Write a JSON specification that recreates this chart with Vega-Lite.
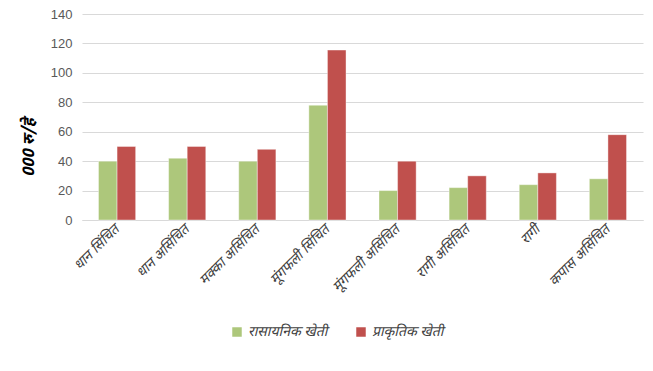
{
  "$schema": "https://vega.github.io/schema/vega-lite/v6.json",
  "width": 561,
  "height": 206,
  "autosize": "none",
  "padding": {"left": 82, "top": 14, "right": 10, "bottom": 151},
  "background": "white",
  "data": {"values": [
    {"crop": "धान सिंचित", "type": "रासायनिक खेती", "value": 40},
    {"crop": "धान सिंचित", "type": "प्राकृतिक खेती", "value": 50},
    {"crop": "धान असिंचित", "type": "रासायनिक खेती", "value": 42},
    {"crop": "धान असिंचित", "type": "प्राकृतिक खेती", "value": 50},
    {"crop": "मक्का असिंचित", "type": "रासायनिक खेती", "value": 40},
    {"crop": "मक्का असिंचित", "type": "प्राकृतिक खेती", "value": 48},
    {"crop": "मूंगफली सिंचित", "type": "रासायनिक खेती", "value": 78},
    {"crop": "मूंगफली सिंचित", "type": "प्राकृतिक खेती", "value": 115.5},
    {"crop": "मूंगफली असिंचित", "type": "रासायनिक खेती", "value": 20},
    {"crop": "मूंगफली असिंचित", "type": "प्राकृतिक खेती", "value": 40},
    {"crop": "रागी असिंचित", "type": "रासायनिक खेती", "value": 22},
    {"crop": "रागी असिंचित", "type": "प्राकृतिक खेती", "value": 30},
    {"crop": "रागी", "type": "रासायनिक खेती", "value": 24},
    {"crop": "रागी", "type": "प्राकृतिक खेती", "value": 32},
    {"crop": "कपास असिंचित", "type": "रासायनिक खेती", "value": 28},
    {"crop": "कपास असिंचित", "type": "प्राकृतिक खेती", "value": 58}
  ]},
  "mark": {"type": "bar", "stroke": "#ffffff", "strokeOpacity": 0.5, "strokeWidth": 0.8},
  "encoding": {
    "x": {
      "field": "crop", "type": "nominal", "sort": null,
      "scale": {"paddingInner": 0.47, "paddingOuter": 0.235},
      "axis": {
        "title": null, "labelAngle": -45, "labelAlign": "right", "labelBaseline": "middle",
        "labelFont": "Noto Sans Devanagari, Noto Sans", "labelFontStyle": "italic", "labelFontSize": 14, "labelColor": "#404040",
        "ticks": false, "domain": true, "domainColor": "#D9D9D9", "labelPadding": 7, "grid": false
      }
    },
    "xOffset": {"field": "type", "type": "nominal", "sort": ["रासायनिक खेती", "प्राकृतिक खेती"]},
    "y": {
      "field": "value", "type": "quantitative",
      "scale": {"domain": [0, 140]},
      "axis": {
        "values": [0, 20, 40, 60, 80, 100, 120, 140],
        "title": "000 रु/हे", "titleFont": "Noto Sans Devanagari, Noto Sans", "titleFontWeight": "bold", "titleFontStyle": "italic",
        "titleFontSize": 16, "titleColor": "#000000", "titleX": -54, "titleY": 133, "titleAngle": -90,
        "titleAlign": "center", "titleBaseline": "middle",
        "labelFont": "Liberation Sans", "labelFontSize": 13, "labelColor": "#595959", "labelPadding": 10,
        "ticks": false, "domain": false, "gridColor": "#D9D9D9", "gridWidth": 1
      }
    },
    "color": {
      "field": "type", "type": "nominal", "sort": ["रासायनिक खेती", "प्राकृतिक खेती"],
      "scale": {"domain": ["रासायनिक खेती", "प्राकृतिक खेती"], "range": ["#ADC77B", "#C0504D"]},
      "legend": {
        "title": null, "orient": "none", "direction": "horizontal", "legendX": 148, "legendY": 311,
        "symbolType": "square", "symbolSize": 90, "symbolStrokeWidth": 0,
        "labelFont": "Noto Sans Devanagari, Noto Sans", "labelFontStyle": "italic", "labelFontSize": 14, "labelColor": "#404040",
        "columnPadding": 26
      }
    }
  },
  "config": {"view": {"stroke": null}}
}
